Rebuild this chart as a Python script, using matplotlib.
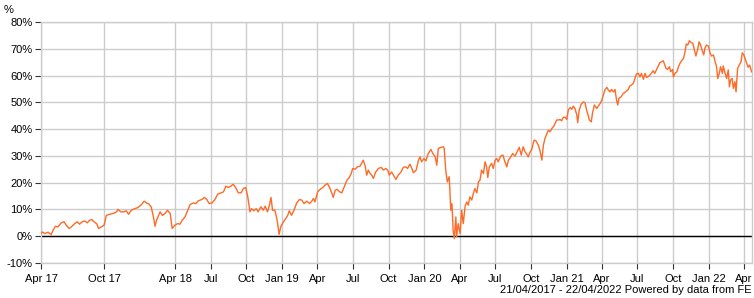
import numpy as np
import pandas as pd
import matplotlib
matplotlib.use("Agg")
import matplotlib.pyplot as plt
import matplotlib.ticker as mticker

plt.rcParams['font.family'] = ['Liberation Sans', 'DejaVu Sans']

# Series: days since 21/04/2017 and cumulative performance (%)
start = pd.Timestamp("2017-04-21")
end = pd.Timestamp("2022-04-22")

days = [0, 3, 10, 18, 26, 31, 37, 44, 52, 59, 65, 72, 78, 85, 93, 99, 106, 112, 119, 125,
        131, 136, 143, 148, 155, 162, 168, 177, 185, 194, 198, 205, 213, 219, 225, 232, 241,
        249, 258, 265, 271, 276, 283, 289, 293, 297, 306, 312, 319, 325, 332, 337, 344, 351,
        357, 363, 370, 377, 383, 391, 398, 404, 413, 420, 426, 432, 439, 447, 454, 463, 469,
        475, 481, 488, 494, 500, 507, 514, 520, 526, 531, 537, 541, 547, 553, 558, 565, 571,
        576, 582, 587, 591, 595, 601, 606, 612, 616, 623, 629, 634, 638, 644, 650, 657, 664,
        670, 676, 683, 690, 696, 700, 704, 711, 717, 724, 730, 736, 741, 747, 751, 756, 761,
        767, 773, 779, 786, 792, 797, 801, 807, 813, 820, 828, 833, 837, 841, 846, 850, 854,
        860, 867, 874, 880, 886, 891, 895, 901, 908, 912, 918, 925, 931, 937, 942, 948, 953,
        957, 964, 970, 974, 978, 984, 989, 995, 1002, 1007, 1013, 1017, 1021, 1028, 1034,
        1036, 1040, 1044, 1049, 1053, 1056, 1059, 1062, 1066, 1068, 1072, 1077, 1081, 1085,
        1090, 1094, 1098, 1102, 1107, 1111, 1115, 1120, 1124, 1128, 1132, 1137, 1141, 1145,
        1148, 1152, 1158, 1162, 1167, 1171, 1175, 1181, 1187, 1192, 1197, 1201, 1207, 1212,
        1218, 1222, 1229, 1234, 1239, 1244, 1248, 1252, 1257, 1261, 1267, 1272, 1278, 1282,
        1287, 1291, 1295, 1300, 1304, 1308, 1313, 1317, 1321, 1325, 1330, 1334, 1338, 1342,
        1347, 1351, 1355, 1360, 1364, 1368, 1372, 1377, 1379, 1383, 1388, 1394, 1398, 1402,
        1407, 1409, 1414, 1417, 1422, 1428, 1432, 1437, 1441, 1445, 1449, 1454, 1458, 1462,
        1466, 1471, 1475, 1479, 1482, 1485, 1491, 1496, 1502, 1509, 1513, 1517, 1522, 1526,
        1530, 1535, 1539, 1543, 1548, 1552, 1556, 1562, 1567, 1573, 1577, 1582, 1586, 1590,
        1595, 1599, 1604, 1606, 1610, 1615, 1618, 1623, 1625, 1629, 1634, 1638, 1642, 1646,
        1651, 1655, 1658, 1662, 1666, 1671, 1675, 1679, 1683, 1688, 1691, 1695, 1699, 1703,
        1706, 1710, 1715, 1719, 1723, 1728, 1732, 1736, 1739, 1743, 1746, 1751, 1753, 1758,
        1762, 1766, 1769, 1772, 1776, 1779, 1783, 1786, 1790, 1794, 1799, 1802, 1806, 1809,
        1813, 1817, 1821, 1826]

perf = [1.0, 1.6, 1.0, 1.5, 0.6, 2.2, 3.7, 3.5, 5.0, 5.4, 4.1, 2.9, 3.5, 4.5, 5.4, 4.5, 5.4,
        5.7, 5.0, 6.0, 6.2, 5.4, 4.7, 2.9, 3.5, 4.1, 7.8, 8.2, 8.5, 9.1, 10.0, 9.1, 9.1, 9.5,
        8.2, 9.7, 10.3, 10.7, 11.8, 13.1, 12.4, 12.2, 11.0, 7.2, 3.7, 6.0, 9.1, 7.8, 8.5, 9.7,
        8.5, 2.9, 4.1, 4.7, 4.5, 6.0, 7.2, 9.7, 11.8, 12.4, 12.2, 13.2, 13.7, 14.5, 13.7,
        12.2, 12.4, 13.7, 15.7, 16.2, 16.6, 18.7, 18.2, 18.7, 19.4, 18.2, 16.2, 16.2, 17.8,
        18.2, 15.0, 9.1, 10.3, 9.5, 10.3, 9.1, 11.0, 9.7, 11.2, 9.1, 11.6, 14.5, 9.7, 9.7,
        6.6, 0.7, 3.5, 5.4, 6.6, 7.8, 9.5, 7.8, 9.7, 12.4, 13.7, 13.5, 12.2, 13.1, 12.2,
        13.1, 14.1, 12.8, 16.6, 17.5, 18.2, 19.1, 19.7, 18.4, 16.2, 14.5, 17.2, 17.5, 16.6,
        16.2, 18.4, 20.9, 21.9, 23.4, 25.3, 25.0, 25.9, 26.2, 28.4, 26.2, 22.8, 24.7, 23.4,
        22.8, 21.6, 24.0, 25.3, 25.7, 24.7, 25.3, 24.7, 22.8, 24.0, 22.2, 21.2, 22.8, 24.0,
        25.7, 25.9, 25.3, 26.9, 25.3, 23.7, 24.7, 28.4, 29.6, 27.8, 29.0, 28.1, 30.9, 32.4,
        30.9, 29.6, 26.5, 32.8, 33.2, 33.4, 32.8, 24.7, 20.3, 22.2, 9.7, 12.2, 2.2, -0.9,
        7.2, -0.2, 4.7, 1.0, 9.7, 4.7, 11.4, 12.8, 11.6, 14.7, 13.5, 16.0, 17.8, 16.2, 20.3,
        20.9, 24.7, 23.4, 27.8, 25.9, 21.9, 25.9, 27.2, 25.3, 28.4, 29.0, 27.8, 29.9, 30.3,
        27.8, 25.9, 28.4, 29.6, 30.9, 29.9, 31.1, 33.2, 30.3, 33.4, 31.5, 30.7, 29.6, 31.5,
        32.4, 35.9, 35.6, 34.0, 32.1, 28.4, 34.0, 36.5, 38.4, 39.6, 39.0, 40.3, 40.9, 42.1,
        43.4, 43.4, 43.6, 43.1, 44.4, 44.4, 43.6, 47.1, 48.1, 47.4, 48.6, 47.7, 45.2, 42.4,
        47.1, 49.3, 50.2, 49.8, 47.1, 44.6, 43.4, 42.7, 45.9, 49.0, 47.7, 48.6, 49.6, 50.8,
        52.7, 54.6, 55.6, 54.6, 53.9, 54.8, 53.9, 54.8, 50.8, 49.0, 51.5, 52.1, 53.3, 53.9,
        54.8, 56.1, 56.4, 57.1, 58.9, 60.6, 60.8, 59.5, 60.8, 58.6, 60.8, 59.3, 59.8, 60.6,
        61.8, 60.8, 62.3, 63.6, 64.8, 65.2, 65.5, 63.5, 62.7, 62.3, 63.3, 61.4, 62.3, 59.5,
        60.8, 61.4, 63.3, 64.6, 65.5, 66.4, 68.9, 71.8, 71.4, 73.0, 72.3, 72.0, 69.5, 67.3,
        70.2, 72.6, 71.4, 69.3, 67.7, 70.2, 71.4, 71.0, 68.5, 67.3, 67.7, 65.2, 63.3, 58.9,
        60.8, 63.3, 60.8, 63.6, 60.8, 58.9, 62.1, 55.8, 58.3, 58.9, 55.2, 57.7, 53.9, 62.7,
        63.9, 65.2, 68.5, 67.7, 66.4, 64.8, 63.1, 63.9, 61.4]

tick_dates = ["2017-04-21", "2017-10-01", "2018-04-01", "2018-07-01", "2018-10-01",
              "2019-01-01", "2019-04-01", "2019-07-01", "2019-10-01", "2020-01-01",
              "2020-04-01", "2020-07-01", "2020-10-01", "2021-01-01", "2021-04-01",
              "2021-07-01", "2021-10-01", "2022-01-01", "2022-04-01"]
tick_labels = ["Apr 17", "Oct 17", "Apr 18", "Jul", "Oct", "Jan 19", "Apr", "Jul", "Oct",
               "Jan 20", "Apr", "Jul", "Oct", "Jan 21", "Apr", "Jul", "Oct", "Jan 22", "Apr"]
y_ticks = [-10, 0, 10, 20, 30, 40, 50, 60, 70, 80]

dates = start + pd.to_timedelta(days, unit="D")

fig = plt.figure(figsize=(7.54, 2.98), dpi=100)
ax = fig.add_axes([41 / 754, 35 / 298, 711 / 754, 241 / 298])

grid_c = "#cccccc"
ax.set_xlim(start, end)
ax.set_ylim(-10, 80)
ax.set_yticks(y_ticks)
ax.yaxis.set_major_formatter(mticker.FuncFormatter(lambda v, p: f"{v:.0f}%"))
ax.set_xticks(pd.to_datetime(tick_dates))
ax.set_xticklabels(tick_labels)

ax.grid(True, color=grid_c, linewidth=1.0)
ax.set_axisbelow(True)
for s in ax.spines.values():
    s.set_color(grid_c)
    s.set_linewidth(1.0)

ax.tick_params(axis="both", length=4, width=0.8, color="#333333", labelsize=8,
               labelcolor="black")
ax.tick_params(axis="x", pad=4)
ax.tick_params(axis="y", pad=2)

ax.axhline(0, color="black", linewidth=1.0, zorder=2)
ax.plot(dates, perf, color="#ff6a26", linewidth=1.0, zorder=3)

fig.text(4 / 754, 1 - 10 / 298, "%", fontsize=8, va="center", ha="left")
fig.text(752 / 754, 1 - 290 / 298, "21/04/2017 - 22/04/2022 Powered by data from FE",
         fontsize=8, va="center", ha="right")

fig.savefig("out.png", dpi=100)
